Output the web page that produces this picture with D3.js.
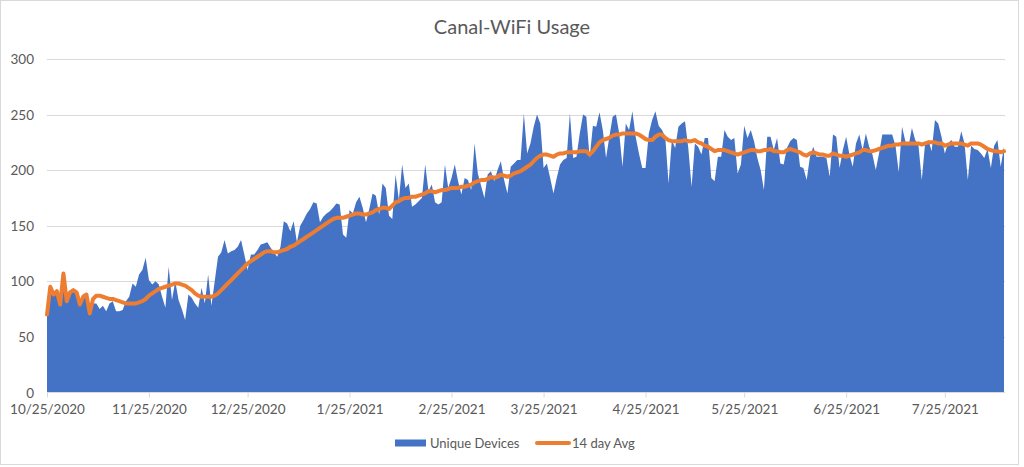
<!DOCTYPE html>
<html>
<head>
<meta charset="utf-8">
<script src="https://cdn.jsdelivr.net/npm/d3@7"></script>
<style>
  html, body { margin: 0; padding: 0; background: #fff; }
  svg { display: block; }
  text { font-family: Lato, "Open Sans", "Liberation Sans", sans-serif; fill: #595959; }
</style>
</head>
<body>
<svg id="chart" width="1024" height="467"></svg>
<script>
const title = "Canal-WiFi Usage";
const seriesNames = ["Unique Devices", "14 day Avg"];
const startDate = "2020-10-25";
const xTickLabels = ["10/25/2020","11/25/2020","12/25/2020","1/25/2021","2/25/2021","3/25/2021","4/25/2021","5/25/2021","6/25/2021","7/25/2021"];
const yTicks = [0, 50, 100, 150, 200, 250, 300];

const uniqueDevices = [
  70,95,88,91,79,107,82,90,92,90,79,86,88,71,80,80,75,78,73,80,
  82,73,73,74,82,86,98,95,106,110,121,101,97,100,97,86,76,113,83,100,
  83,75,65,88,85,80,76,94,80,106,78,100,122,126,137,125,127,128,131,137,
  124,110,124,124,128,133,134,135,130,126,122,131,154,152,145,154,135,150,155,161,
  165,171,170,153,158,161,163,166,170,169,142,139,164,161,171,176,166,153,165,179,
  177,160,188,184,159,156,196,173,205,184,188,167,169,172,175,205,181,187,171,169,
  171,205,184,193,205,190,178,193,191,182,224,197,186,175,196,199,190,200,208,191,
  179,203,206,209,209,251,215,224,239,250,242,202,206,193,179,193,205,209,211,251,
  211,212,233,250,248,211,240,239,252,236,211,230,248,250,233,203,242,236,253,230,
  215,202,202,233,245,253,240,236,230,188,227,220,239,242,244,220,185,224,221,214,
  229,229,193,190,212,212,236,230,227,229,197,205,240,229,236,226,211,200,182,230,
  230,218,229,206,205,220,226,229,227,203,202,191,212,221,212,212,212,211,194,232,
  230,202,218,230,214,203,224,232,218,233,221,214,200,215,232,232,232,232,222,198,
  239,226,222,238,227,222,191,224,227,217,245,242,230,215,224,227,221,221,235,224,
  191,222,219,218,215,211,219,202,222,227,203,221
];

const avg14 = [
  70,95,88,91,79,107,82,90,92,90,79,86,88,71,84,87,87,86,85,84,
  84,83,82,81,80,80,80,80,81,82,84,87,89,91,93,94,95,96,97,98,
  98,97,96,94,92,89,87,86,86,86,86,87,89,92,95,98,101,104,107,110,
  113,116,118,120,122,124,126,127,127,126,126,127,128,129,131,132,134,136,138,140,
  142,144,146,148,150,152,154,156,157,157,157,158,159,160,161,161,160,160,161,162,
  164,165,166,166,165,168,171,172,174,175,175,176,176,177,178,179,181,181,180,181,
  182,182,183,184,184,184,185,185,186,187,189,190,191,191,192,194,193,194,196,195,
  194,195,197,198,199,201,203,205,208,211,213,214,214,213,212,214,215,215,216,216,
  216,216,217,217,217,214,217,221,225,227,228,229,231,232,232,233,233,233,233,233,
  232,230,228,227,227,230,232,232,229,227,226,226,226,226,227,226,226,227,225,224,
  222,221,219,217,218,218,218,217,216,215,214,215,216,217,218,218,217,217,218,218,
  219,217,217,216,216,218,219,218,217,216,214,213,215,216,215,214,214,213,213,215,
  214,213,213,212,213,214,215,216,218,218,217,217,218,219,220,221,222,222,223,223,
  224,224,224,224,224,224,223,224,225,225,225,224,224,222,223,224,224,224,224,223,
  222,224,224,224,223,221,219,218,217,217,216,217
];

const svg = d3.select("#chart");

// chart border
svg.append("rect").attr("x", 0.5).attr("y", 0.5).attr("width", 1018).attr("height", 464)
  .attr("fill", "#fff").attr("stroke", "#D9D9D9").attr("stroke-width", 1);

const parse = d3.utcParse("%Y-%m-%d");
const parseTick = d3.utcParse("%m/%d/%Y");
const t0 = parse(startDate);
const dates = uniqueDevices.map((_, i) => d3.utcDay.offset(t0, i));

const x = d3.scaleUtc().domain([dates[0], dates[dates.length - 1]]).range([47, 1004]);
const y = d3.scaleLinear().domain([0, 300]).range([392.3, 59]);

// title
svg.append("text").attr("x", 512).attr("y", 34).attr("text-anchor", "middle")
  .style("font-size", "20px").text(title);

// gridlines
svg.append("g").selectAll("line").data(yTicks.filter(v => v > 0)).join("line")
  .attr("x1", 47).attr("x2", 1005).attr("y1", d => Math.round(y(d)) + 0.5).attr("y2", d => Math.round(y(d)) + 0.5)
  .attr("stroke", "#D9D9D9").attr("stroke-width", 1);

// y axis labels
const yAxis = d3.axisLeft(y).tickValues(yTicks).tickSize(0).tickPadding(0);
const gy = svg.append("g").attr("transform", "translate(34,0)").call(yAxis);
gy.select(".domain").remove();
gy.selectAll("text").style("font-size", "13.5px").style("font-family", "Lato, 'Open Sans', sans-serif").attr("fill", "#595959").attr("dy", "0.35em");

// area
const area = d3.area().x((d, i) => x(dates[i])).y0(y(0)).y1(d => y(d)).curve(d3.curveLinear);
svg.append("path").datum(uniqueDevices).attr("d", area).attr("fill", "#4472C4");

// x axis
const tickDates = xTickLabels.map(s => parseTick(s));
const xAxis = d3.axisBottom(x).tickValues(tickDates).tickSize(5).tickPadding(7)
  .tickFormat((d, i) => xTickLabels[i]);
const gx = svg.append("g").attr("transform", `translate(0,${Math.round(y(0)) + 0.5})`).call(xAxis);
gx.select(".domain").attr("d", `M47,0H1005`).attr("stroke", "#D9D9D9");
gx.selectAll(".tick line").attr("stroke", "#D9D9D9");
gx.selectAll("text").style("font-size", "13.5px").style("font-family", "Lato, 'Open Sans', sans-serif").attr("fill", "#595959");

// avg line
const line = d3.line().x((d, i) => x(dates[i])).y(d => y(d)).curve(d3.curveLinear);
svg.append("path").datum(avg14).attr("d", line).attr("fill", "none")
  .attr("stroke", "#ED7D31").attr("stroke-width", 4).attr("stroke-linejoin", "round").attr("stroke-linecap", "round");

// legend
const lg = svg.append("g");
lg.append("rect").attr("x", 395).attr("y", 439.5).attr("width", 31).attr("height", 7).attr("fill", "#4472C4");
lg.append("text").attr("x", 430).attr("y", 443).attr("dy", "0.35em").style("font-size", "13px").text(seriesNames[0]);
lg.append("line").attr("x1", 537).attr("x2", 569).attr("y1", 443).attr("y2", 443)
  .attr("stroke", "#ED7D31").attr("stroke-width", 4).attr("stroke-linecap", "round");
lg.append("text").attr("x", 572).attr("y", 443).attr("dy", "0.35em").style("font-size", "13px").text(seriesNames[1]);
</script>
</body>
</html>
